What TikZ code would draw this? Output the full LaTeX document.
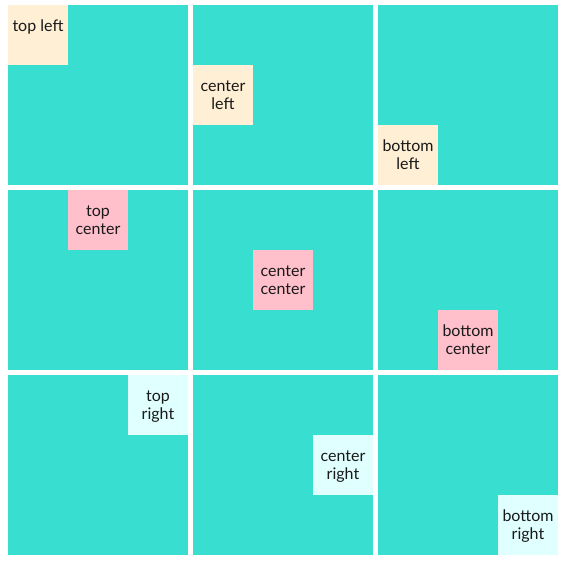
\documentclass[tikz,border=0pt]{standalone}
\usepackage{fontspec}
\setmainfont{Lato}
\usetikzlibrary{positioning}
\definecolor{cellcolor}{HTML}{38DFD1}
\definecolor{leftcolor}{HTML}{FFEFD5}
\definecolor{centercolor}{HTML}{FFC0CB}
\definecolor{rightcolor}{HTML}{E0FFFF}
% text of a small box, set from its top
\newcommand{\tagtext}[1]{\parbox[c][45pt][t]{45pt}{\centering\rule{0pt}{19.9pt}#1}}
\tikzset{
  % one big square of the grid
  cell/.style={rectangle, fill=cellcolor, minimum size=135pt, inner sep=0, outer sep=0},
  % small label boxes
  tag/.style={rectangle, minimum size=45pt, inner sep=0, outer sep=0,
    font=\fontsize{12}{13.8}\selectfont, text=black!90},
  tagleft/.style={tag, fill=leftcolor},
  tagcenter/.style={tag, fill=centercolor},
  tagright/.style={tag, fill=rightcolor}
}
\begin{document}
\begin{tikzpicture}[x=0.75pt, y=-0.75pt, node distance=3.75pt]
  \useasboundingbox (0, 0) rectangle (566, 564);

  % the grid
  \node[cell, anchor=north west] (c11) at (8, 5) {};
  \node[cell, right=of c11] (c12) {};
  \node[cell, right=of c12] (c13) {};
  \node[cell, below=of c11] (c21) {};
  \node[cell, right=of c21] (c22) {};
  \node[cell, right=of c22] (c23) {};
  \node[cell, below=of c21] (c31) {};
  \node[cell, right=of c31] (c32) {};
  \node[cell, right=of c32] (c33) {};

  % left
  \node[tagleft, anchor=north west] (tl) at (c11.north west) {\tagtext{top left}};
  \node[tagleft, anchor=west] (cl) at (c12.west) {\tagtext{center\\left}};
  \node[tagleft, anchor=south west] (bl) at (c13.south west) {\tagtext{bottom\\left}};

  % center
  \node[tagcenter, anchor=north] (tc) at (c21.north) {\tagtext{top\\center}};
  \node[tagcenter, anchor=center] (cc) at (c22.center) {\tagtext{center\\center}};
  \node[tagcenter, anchor=south] (bc) at (c23.south) {\tagtext{bottom\\center}};

  % right
  \node[tagright, anchor=north east] (tr) at (c31.north east) {\tagtext{top\\right}};
  \node[tagright, anchor=east] (cr) at (c32.east) {\tagtext{center\\right}};
  \node[tagright, anchor=south east] (br) at (c33.south east) {\tagtext{bottom\\right}};
\end{tikzpicture}
\end{document}
